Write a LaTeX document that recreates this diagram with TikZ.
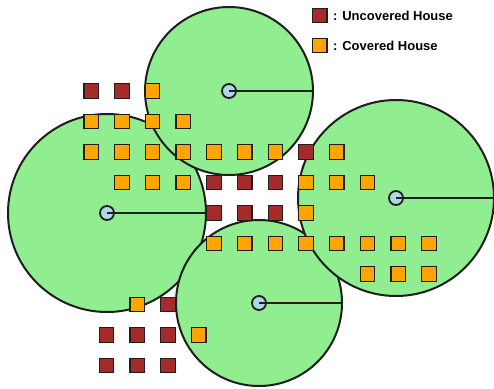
\documentclass[tikz,border=0pt]{standalone}
\usepackage{fontspec}
\setmainfont{Liberation Sans}
\definecolor{zonegreen}{HTML}{90EE90}
\definecolor{uncov}{HTML}{A52A2A}
\definecolor{cov}{HTML}{FFA500}
\definecolor{dotblue}{HTML}{ADD8E6}
\definecolor{edge}{HTML}{1E1E1E}
\begin{document}
\begin{tikzpicture}[x=1pt,y=-1pt,
  zone/.style={circle, draw=edge, fill=zonegreen, line width=2pt, inner sep=0pt},
  tower/.style={circle, draw=edge, fill=dotblue, line width=1.8pt, inner sep=0pt, minimum size=14pt},
  radius/.style={draw=edge, line width=1.7pt},
  house/.style={rectangle, draw=edge, line width=1.2pt, inner sep=0pt, minimum size=14.5pt},
  U/.style={house, fill=uncov},
  C/.style={house, fill=cov},
  legend/.style={anchor=west, inner sep=0pt, font=\fontsize{13}{15}\selectfont\bfseries, text=black}
]
\useasboundingbox (0,0) rectangle (494,388);
% coverage zones
\node[zone, minimum size=198pt] (zL) at (107,213) {};
\node[zone, minimum size=166pt] (zB) at (259,303) {};
\node[zone, minimum size=196pt] (zR) at (396,198) {};
\node[zone, minimum size=168pt] (zT) at (229,91) {};
% towers and radii
\foreach \z in {zL,zB,zR,zT}{
  \node[tower] (t\z) at (\z.center) {};
  \draw[radius] (t\z.center) -- (\z.east);
}
% houses
\foreach \c/\r/\t [count=\i] in {
  0/0/U,1/0/U,2/0/C,
  0/1/C,1/1/C,2/1/C,3/1/C,
  0/2/C,1/2/C,2/2/C,3/2/C,4/2/C,5/2/C,6/2/C,7/2/U,8/2/C,
  1/3/C,2/3/C,3/3/C,4/3/U,5/3/U,6/3/U,7/3/C,8/3/C,9/3/C,
  4/4/U,5/4/U,6/4/U,7/4/C,
  4/5/C,5/5/C,6/5/C,7/5/C,8/5/C,9/5/C,10/5/C,11/5/C,
  9/6/C,10/6/C,11/6/C,
  1.5/7/C,2.5/7/U,
  0.5/8/U,1.5/8/U,2.5/8/U,3.5/8/C,
  0.5/9/U,1.5/9/U,2.5/9/U}
  \node[\t] (h\i) at ({91.2+30.7*\c},{91+30.5*\r}) {};
% legend
\node[U] (lu) at (319.8,15.5) {};
\node[C] (lc) at (319.8,45.5) {};
\node[legend] (tu) at (333,16) {: Uncovered House};
\node[legend] (tc) at (333,46) {: Covered House};
\end{tikzpicture}
\end{document}
